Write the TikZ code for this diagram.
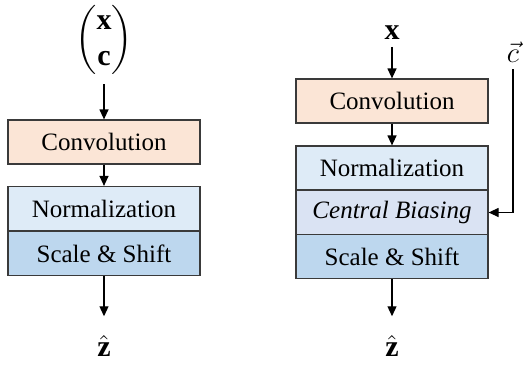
\documentclass[tikz,border=0pt]{standalone}
\usepackage{amsmath}
\usepackage{fontspec}
\setmainfont{Liberation Serif}
\usetikzlibrary{arrows.meta}
\definecolor{convfill}{HTML}{FBE5D6}
\definecolor{normfill}{HTML}{DEEBF7}
\definecolor{biasfill}{HTML}{DAE3F3}
\definecolor{scalefill}{HTML}{BDD7EE}
\definecolor{edge}{HTML}{3A3A3A}
\tikzset{
    block/.style={draw=edge, line width=0.6pt, minimum width=96pt, minimum height=22pt,
        inner sep=0pt, font=\fontsize{12.5}{15}\selectfont},
    lbl/.style={font=\fontsize{15}{18}\selectfont},
    arr/.style={-{Triangle[length=5pt,width=4.5pt]}, line width=0.6pt}
}
\begin{document}
\begin{tikzpicture}[x=0.5pt, y=-0.5pt]
            \useasboundingbox (0, 0) rectangle (524, 364);
            % left: concatenated input
            \node[lbl, inner sep=0pt] (in1) at (104, 40) {$\begin{pmatrix}\mathbf{x}\\ \mathbf{c}\end{pmatrix}$};
            \coordinate (s1) at (104, 84);
            \node[block, fill=convfill] (conv1) at (104, 142) {Convolution};
            \node[block, fill=normfill] (norm1) at (104, 208.5) {Normalization};
            \node[block, fill=scalefill] (ss1) at (104, 253.5) {Scale \& Shift};
            \node[lbl] (z1) at (104, 346) {$\hat{\mathbf{z}}$};
            \draw[arr] (s1) -- (conv1.north);
            \draw[arr] (conv1.south) -- (norm1.north);
            \draw[arr] (ss1.south) -- ([yshift=6pt]z1.north);
            % right: central biasing
            \node[lbl] (in2) at (392, 33) {$\mathbf{x}$};
            \node[lbl] (cvec) at (513, 52) {$\vec{c}$};
            \node[block, fill=convfill] (conv2) at (392, 101) {Convolution};
            \node[block, fill=normfill] (norm2) at (392, 168) {Normalization};
            \node[block, fill=biasfill] (cb2) at (392, 212.5) {\textit{Central Biasing}};
            \node[block, fill=scalefill] (ss2) at (392, 256.5) {Scale \& Shift};
            \node[lbl] (z2) at (392, 346) {$\hat{\mathbf{z}}$};
            \draw[arr] (in2.south) -- (conv2.north);
            \draw[arr] (conv2.south) -- (norm2.north);
            \draw[arr] (cvec.south) |- (cb2.east);
            \draw[arr] (ss2.south) -- ([yshift=6pt]z2.north);
\end{tikzpicture}
\end{document}
